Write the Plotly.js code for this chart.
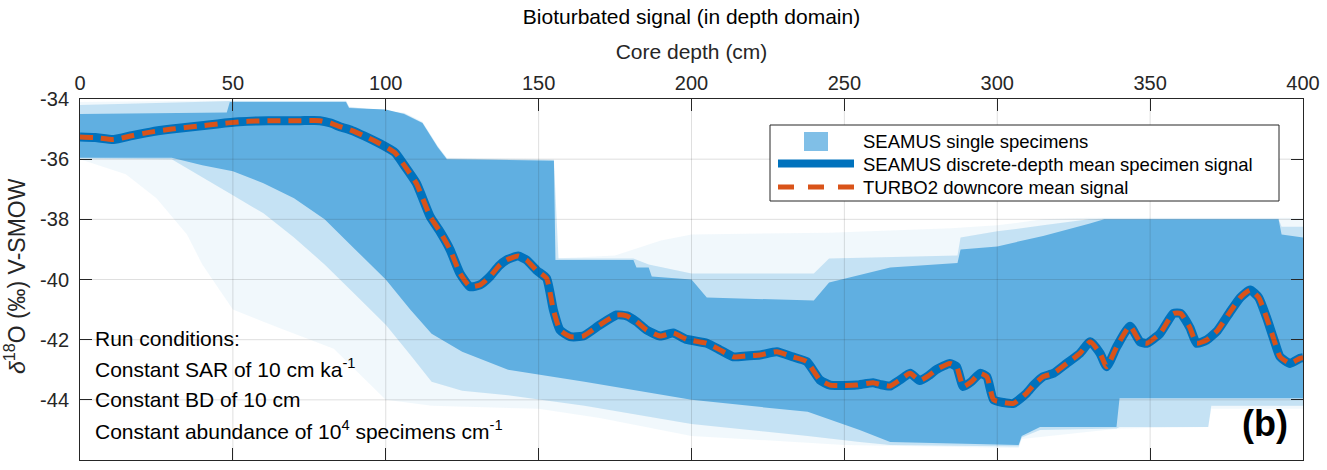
<!DOCTYPE html>
<html>
<head>
<meta charset="utf-8">
<script src="https://cdn.plot.ly/plotly-3.0.1.min.js"></script>
<style>html,body{margin:0;padding:0;background:#fff;}#chart{width:1327px;height:470px;}</style>
</head>
<body>
<div id="chart"></div>
<script>
// ---- tick definitions ----
const depthTicks = [0, 50, 100, 150, 200, 250, 300, 350, 400];
const deltaTicks = [-46, -44, -42, -40, -38, -36, -34];
const deltaTickLabels = ['-46', '-44', '-42', '-40', '-38', '-36', '-34'];

// ---- legend labels ----
const legendLabels = ['SEAMUS single specimens', 'SEAMUS discrete-depth mean specimen signal', 'TURBO2 downcore mean signal'];

// ---- SEAMUS single specimens: dense cloud envelope ----
const denseTopDepth = [0, 48, 49, 87, 88, 100, 106, 112, 117, 120, 155, 155.5, 181, 182, 186, 187, 200, 205, 240, 245, 265, 287, 288, 300, 315, 330, 335, 392, 393, 400];
const denseTopDelta = [-34.5, -34.45, -34.1, -34.1, -34.3, -34.35, -34.5, -34.8, -35.6, -36.0, -36.05, -39.35, -39.35, -39.6, -39.6, -39.9, -40.0, -40.6, -40.7, -40.1, -39.6, -39.45, -39.0, -38.9, -38.55, -38.15, -38.0, -38.0, -38.5, -38.6];
const denseBotDepth = [0, 30, 40, 50, 60, 70, 80, 90, 100, 108, 115, 125, 140, 165, 200, 238, 255, 265, 307, 308, 314, 339, 340, 400];
const denseBotDelta = [-35.95, -35.95, -36.2, -36.4, -36.8, -37.3, -38.0, -39.0, -40.0, -41.0, -41.8, -42.4, -43.0, -43.4, -44.0, -44.4, -45.0, -45.4, -45.5, -45.2, -44.9, -44.9, -43.95, -43.95];

// ---- SEAMUS single specimens: speckled (medium density) envelope ----
const midTopDepth = [0, 50, 87, 88, 106, 112, 117, 120, 155, 156.5, 181, 186, 200, 240, 245, 287, 288, 300, 315, 330, 335, 392, 393, 400];
const midTopDelta = [-34.2, -34.07, -34.07, -34.27, -34.47, -34.78, -35.58, -35.98, -36.03, -39.3, -39.3, -39.5, -39.8, -39.8, -39.3, -39.2, -38.6, -38.4, -38.2, -38.0, -37.98, -37.98, -38.25, -38.25];
const midBotDepth = [0, 30, 40, 50, 60, 70, 80, 90, 100, 108, 115, 125, 140, 165, 200, 238, 255, 265, 307, 308, 314, 339, 340, 369, 370, 400];
const midBotDelta = [-35.98, -36.0, -36.6, -37.2, -37.8, -38.6, -39.5, -40.5, -41.5, -42.5, -43.4, -43.7, -43.85, -44.2, -44.8, -45.2, -45.4, -45.5, -45.55, -45.25, -45.0, -44.95, -44.9, -44.9, -44.2, -44.2];

// ---- SEAMUS single specimens: sparse outer scatter envelope ----
const sparseTopDepth = [0, 50, 87, 88, 106, 112, 117, 120, 155, 155.5, 175, 190, 200, 245, 285, 300, 315, 330, 400];
const sparseTopDelta = [-34.1, -34.05, -34.05, -34.25, -34.45, -34.75, -35.55, -35.95, -36.0, -39.3, -39.2, -38.7, -38.5, -38.45, -38.3, -38.2, -38.0, -37.95, -37.95];
const sparseBotDepth = [0, 15, 25, 35, 40, 50, 65, 83, 100, 115, 150, 170, 200, 250, 307, 308, 340, 369, 370, 400];
const sparseBotDelta = [-36.0, -36.5, -37.3, -38.5, -39.5, -41.0, -41.6, -42.3, -44.0, -44.2, -44.3, -44.6, -45.2, -45.5, -45.6, -45.3, -44.95, -44.9, -44.3, -44.3];

// ---- SEAMUS discrete-depth mean specimen signal ----
const meanDepth = [0, 5, 11, 17, 23, 30, 39, 45, 52, 58, 65, 72, 78.5, 82, 85, 89, 93, 98, 103, 106, 110, 114.5, 117.7, 121, 124.3, 127.6, 130.8, 134.1, 137, 139.5, 143.3, 146, 149.4, 152.6, 154.8, 157, 160.3, 164.6, 170, 175.5, 178.8, 182, 185.3, 189.7, 194, 198.4, 205, 209.3, 213.7, 218, 222.4, 227.9, 233, 237.7, 242, 245.3, 250, 254, 259.4, 262, 265, 268, 271.5, 274.7, 277.5, 280.2, 284.5, 286.7, 288.9, 291.5, 294.4, 296.6, 298.8, 302, 305.3, 309.6, 312, 315, 318.4, 322.7, 327.1, 330.4, 333.6, 335.8, 339.1, 343.4, 346.7, 348.9, 353.2, 357.6, 360, 363, 365.2, 368.5, 372, 376, 379.5, 382.7, 385.5, 388, 390.5, 392.5, 395.8, 399, 400];
const meanDelta = [-35.26, -35.28, -35.35, -35.22, -35.1, -35.0, -34.9, -34.83, -34.76, -34.73, -34.72, -34.72, -34.72, -34.8, -34.92, -35.05, -35.23, -35.48, -35.78, -36.2, -36.8, -37.9, -38.4, -39.0, -39.8, -40.24, -40.18, -39.9, -39.55, -39.35, -39.22, -39.35, -39.7, -39.96, -41.0, -41.68, -41.9, -41.88, -41.51, -41.18, -41.21, -41.4, -41.68, -41.88, -41.78, -41.99, -42.12, -42.34, -42.57, -42.54, -42.51, -42.4, -42.57, -42.73, -43.34, -43.51, -43.52, -43.51, -43.43, -43.5, -43.54, -43.35, -43.12, -43.36, -43.2, -42.99, -42.79, -42.9, -43.56, -43.4, -43.12, -43.23, -44.0, -44.09, -44.12, -43.78, -43.5, -43.23, -43.12, -42.79, -42.45, -42.07, -42.45, -42.9, -42.23, -41.55, -42.07, -42.12, -41.8, -41.13, -41.13, -41.6, -42.12, -42.01, -41.7, -41.1, -40.6, -40.35, -40.6, -41.24, -42.0, -42.57, -42.79, -42.62, -42.6];

// ---- TURBO2 downcore mean signal ----
const turboDepth = meanDepth.slice();
const turboDelta = [-35.26, -35.28, -35.35, -35.22, -35.1, -35.0, -34.9, -34.83, -34.76, -34.73, -34.72, -34.72, -34.72, -34.8, -34.92, -35.05, -35.23, -35.48, -35.78, -36.2, -36.8, -37.9, -38.4, -39.0, -39.8, -40.24, -40.18, -39.9, -39.55, -39.35, -39.22, -39.35, -39.7, -39.96, -41.0, -41.68, -41.9, -41.88, -41.51, -41.18, -41.21, -41.4, -41.68, -41.88, -41.78, -41.99, -42.12, -42.34, -42.57, -42.54, -42.51, -42.4, -42.57, -42.73, -43.34, -43.51, -43.52, -43.51, -43.43, -43.5, -43.54, -43.35, -43.12, -43.36, -43.2, -42.99, -42.79, -42.9, -43.56, -43.4, -43.12, -43.23, -44.0, -44.09, -44.12, -43.78, -43.5, -43.23, -43.12, -42.79, -42.45, -42.07, -42.45, -42.9, -42.23, -41.55, -42.07, -42.12, -41.8, -41.13, -41.13, -41.6, -42.12, -42.01, -41.7, -41.1, -40.6, -40.35, -40.6, -41.24, -42.0, -42.57, -42.79, -42.62, -42.6];

// ---- build polygons from envelopes ----
function polygon(topX, topY, botX, botY) {
  return {
    x: topX.concat(botX.slice().reverse(), [topX[0]]),
    y: topY.concat(botY.slice().reverse(), [topY[0]])
  };
}
const sparsePoly = polygon(sparseTopDepth, sparseTopDelta, sparseBotDepth, sparseBotDelta);
const midPoly = polygon(midTopDepth, midTopDelta, midBotDepth, midBotDelta);
const densePoly = polygon(denseTopDepth, denseTopDelta, denseBotDepth, denseBotDelta);

const FONT = 'Liberation Sans, Arial, Helvetica, sans-serif';
const INK = '#262626';
const CLOUD = 'rgb(96,175,225)';
const BLUE = '#0072BD';
const ORANGE = '#D95319';

const traces = [
  {x: sparsePoly.x, y: sparsePoly.y, type: 'scatter', mode: 'none', fill: 'toself',
   fillcolor: 'rgba(96,175,225,0.09)', showlegend: false, hoverinfo: 'skip', name: 'sparse specimens'},
  {x: midPoly.x, y: midPoly.y, type: 'scatter', mode: 'none', fill: 'toself',
   fillcolor: 'rgba(96,175,225,0.3)', showlegend: false, hoverinfo: 'skip', name: 'speckled specimens'},
  {x: densePoly.x, y: densePoly.y, type: 'scatter', mode: 'none', fill: 'toself',
   fillcolor: CLOUD, name: legendLabels[0], showlegend: false, hoverinfo: 'skip'},
  {x: meanDepth, y: meanDelta, type: 'scatter', mode: 'lines', showlegend: false,
   line: {color: BLUE, width: 9, shape: 'spline', smoothing: 0.5}, name: legendLabels[1]},
  {x: turboDepth, y: turboDelta, type: 'scatter', mode: 'lines', showlegend: false,
   line: {color: ORANGE, width: 5, dash: '13px,8px', shape: 'spline', smoothing: 0.5}, name: legendLabels[2]}
];

// pixel -> paper helpers (plot area: x 80..1303, y 99..460)
const PL = 80, PW = 1223, PT = 99, PH = 361;
const px = v => (v - PL) / PW;
const py = v => 1 - (v - PT) / PH;

// grid drawn on top of the data (as in the reference)
const shapes = [];
depthTicks.slice(1, -1).forEach(v => shapes.push({
  type: 'line', xref: 'x', yref: 'paper', x0: v, x1: v, y0: 0, y1: 1,
  line: {color: 'rgba(38,38,38,0.15)', width: 1}, layer: 'above'
}));
deltaTicks.slice(1, -1).forEach(v => shapes.push({
  type: 'line', xref: 'paper', yref: 'y', x0: 0, x1: 1, y0: v, y1: v,
  line: {color: 'rgba(38,38,38,0.15)', width: 1}, layer: 'above'
}));
// legend box and symbols
shapes.push({type: 'rect', xref: 'paper', yref: 'paper', x0: px(770), x1: px(1279), y0: py(201), y1: py(125),
  fillcolor: '#fff', line: {color: INK, width: 1}, layer: 'above'});
shapes.push({type: 'rect', xref: 'paper', yref: 'paper', x0: px(804), x1: px(828), y0: py(151), y1: py(132),
  fillcolor: 'rgba(96,175,225,0.8)', line: {width: 0}, layer: 'above'});
shapes.push({type: 'line', xref: 'paper', yref: 'paper', x0: px(778), x1: px(854), y0: py(163.5), y1: py(163.5),
  line: {color: BLUE, width: 8}, layer: 'above'});
shapes.push({type: 'line', xref: 'paper', yref: 'paper', x0: px(778), x1: px(854), y0: py(187), y1: py(187),
  line: {color: ORANGE, width: 5, dash: '16px,14px'}, layer: 'above'});

const annFont = {family: FONT, size: 21, color: '#000'};
const legFont = {family: FONT, size: 18.5, color: '#000'};
const annotations = [
  {text: legendLabels[0], xref: 'paper', yref: 'paper', x: px(861), y: py(141), xanchor: 'left', yanchor: 'middle', showarrow: false, font: legFont},
  {text: legendLabels[1], xref: 'paper', yref: 'paper', x: px(861), y: py(164), xanchor: 'left', yanchor: 'middle', showarrow: false, font: legFont},
  {text: legendLabels[2], xref: 'paper', yref: 'paper', x: px(861), y: py(187), xanchor: 'left', yanchor: 'middle', showarrow: false, font: legFont},
  {text: 'Run conditions:', xref: 'paper', yref: 'y', x: 0.0105, y: -41.95, xanchor: 'left', yanchor: 'middle', showarrow: false, font: annFont},
  {text: 'Constant SAR of 10 cm ka<sup>-1</sup>', xref: 'paper', yref: 'y', x: 0.0105, y: -42.93, xanchor: 'left', yanchor: 'middle', showarrow: false, font: annFont},
  {text: 'Constant BD of 10 cm', xref: 'paper', yref: 'y', x: 0.0105, y: -44.0, xanchor: 'left', yanchor: 'middle', showarrow: false, font: annFont},
  {text: 'Constant abundance of 10<sup>4</sup> specimens cm<sup>-1</sup>', xref: 'paper', yref: 'y', x: 0.0105, y: -45.0, xanchor: 'left', yanchor: 'middle', showarrow: false, font: annFont},
  {text: '<b>(b)</b>', xref: 'paper', yref: 'y', x: 0.989, y: -44.77, xanchor: 'right', yanchor: 'middle', showarrow: false, font: {family: FONT, size: 36, color: '#000'}}
];

const layout = {
  width: 1327, height: 470,
  margin: {l: 80, r: 24, t: 99, b: 10, pad: 0},
  paper_bgcolor: '#fff', plot_bgcolor: '#fff',
  font: {family: FONT, color: INK},
  showlegend: false,
  title: {text: 'Bioturbated signal (in depth domain)', font: {family: FONT, size: 21, color: '#000'},
          x: 0.5, xref: 'paper', xanchor: 'center', y: 1 - 17 / 470, yref: 'container', yanchor: 'middle'},
  xaxis: {
    range: [0, 400], side: 'top', tickvals: depthTicks, ticktext: depthTicks.map(String),
    ticks: 'inside', ticklen: 12, tickwidth: 1, tickcolor: INK,
    showline: true, linecolor: INK, linewidth: 1, mirror: 'ticks',
    showgrid: false, zeroline: false,
    tickfont: {family: FONT, size: 20, color: INK},
    title: {text: 'Core depth (cm)', font: {family: FONT, size: 21, color: INK}, standoff: 6}
  },
  yaxis: {
    range: [-46, -34], tickvals: deltaTicks, ticktext: deltaTickLabels,
    ticks: 'inside', ticklen: 12, tickwidth: 1, tickcolor: INK,
    showline: true, linecolor: INK, linewidth: 1, mirror: 'ticks',
    showgrid: false, zeroline: false, ticklabelstandoff: 6,
    tickfont: {family: FONT, size: 20, color: INK},
    title: {text: '&nbsp;<i>δ</i><sup>18</sup>O (‰) V-SMOW', font: {family: FONT, size: 23, color: INK}, standoff: 9}
  },
  shapes: shapes,
  annotations: annotations
};

Plotly.newPlot('chart', traces, layout, {displayModeBar: false, staticPlot: true});
</script>
</body>
</html>
